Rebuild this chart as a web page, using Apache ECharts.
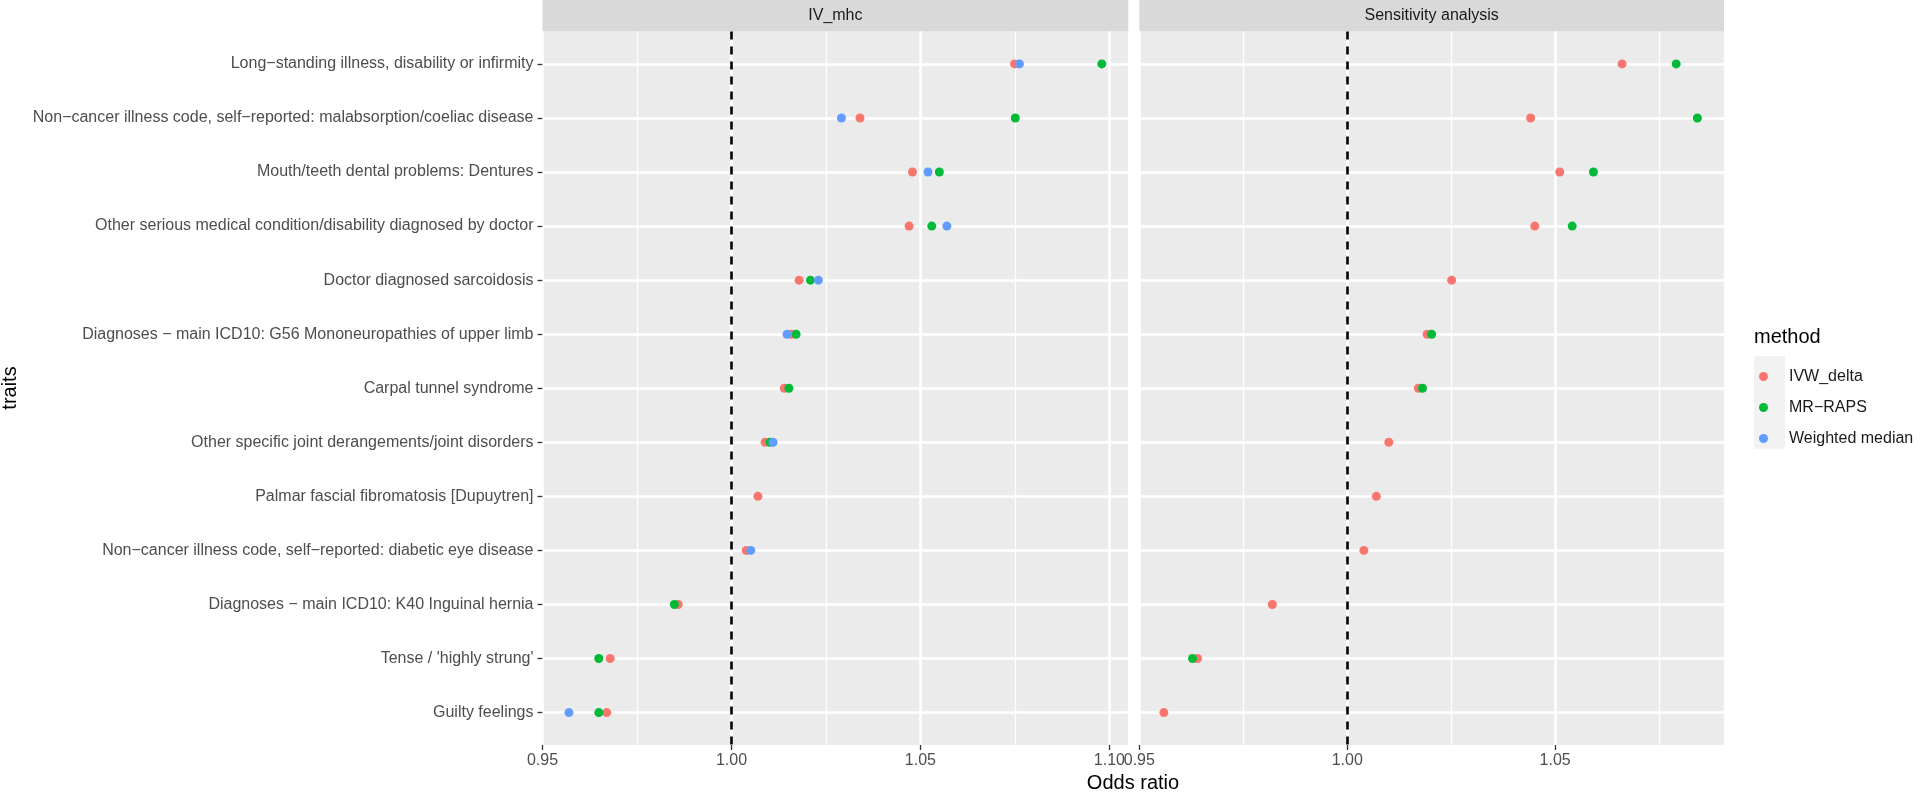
<!DOCTYPE html>
<html><head><meta charset="utf-8">
<script src="https://cdn.jsdelivr.net/npm/echarts@6/dist/echarts.min.js"></script>
<style>html,body{margin:0;padding:0;background:#fff}#c{width:1920px;height:796px}</style>
</head><body><div id="c"></div>
<script>
// ---------- data ----------
const traits = [
  'Long−standing illness, disability or infirmity',
  'Non−cancer illness code, self−reported: malabsorption/coeliac disease',
  'Mouth/teeth dental problems: Dentures',
  'Other serious medical condition/disability diagnosed by doctor',
  'Doctor diagnosed sarcoidosis',
  'Diagnoses − main ICD10: G56 Mononeuropathies of upper limb',
  'Carpal tunnel syndrome',
  'Other specific joint derangements/joint disorders',
  'Palmar fascial fibromatosis [Dupuytren]',
  'Non−cancer illness code, self−reported: diabetic eye disease',
  'Diagnoses − main ICD10: K40 Inguinal hernia',
  "Tense / 'highly strung'",
  'Guilty feelings'
];
const panels = ['IV_mhc', 'Sensitivity analysis'];
const methods = ['IVW_delta', 'MR−RAPS', 'Weighted median'];
const methodColors = ['#F8766D', '#00BA38', '#619CFF'];

// IV_mhc panel
const ivmhcIVW  = [1.0749, 1.0340, 1.0479, 1.0470, 1.0179, 1.0158, 1.0140, 1.0089, 1.0070, 1.0039, 0.9859, 0.9679, 0.9670];
const ivmhcRAPS = [1.0980, 1.0751, 1.0550, 1.0530, 1.0209, 1.0171, 1.0152, 1.0102, null,   null,   0.9849, 0.9649, 0.9649];
const ivmhcWM   = [1.0762, 1.0291, 1.0520, 1.0570, 1.0230, 1.0147, null,   1.0110, null,   1.0051, null,   null,   0.9570];
// Sensitivity analysis panel
const sensIVW   = [1.0661, 1.0441, 1.0511, 1.0451, 1.0251, 1.0192, 1.0171, 1.0100, 1.0070, 1.0040, 0.9820, 0.9640, 0.9559];
const sensRAPS  = [1.0791, 1.0842, 1.0592, 1.0541, null,   1.0203, 1.0181, null,   null,   null,   null,   0.9628, null];
const sensWM    = [null, null, null, null, null, null, null, null, null, null, null, null, null];

// axis ticks
const leftXTicks  = [0.95, 1.00, 1.05, 1.10];
const rightXTicks = [0.95, 1.00, 1.05];
const leftXRange  = [0.95, 1.105];
const rightXRange = [0.95, 1.0906];
const refLine = 1.00;

// ---------- chart ----------
const FONT = "'Liberation Sans', Arial, Helvetica, sans-serif";
const chart = echarts.init(document.getElementById('c'), null, {renderer: 'canvas'});

const gridTop = 31.5, gridBottom = 51;
const grids = [
  {left: 542.5, width: 585.8, top: gridTop, bottom: gridBottom},
  {left: 1139.3, width: 584.7, top: gridTop, bottom: gridBottom}
];
const idx = traits.map((t, i) => i);

function majorX(g, range, ticks) {
  return {
    type: 'value', gridIndex: g, min: range[0], max: range[1], interval: 0.05, position: 'bottom',
    axisLine: {show: false, onZero: false},
    axisTick: {show: true, length: 5, customValues: ticks, lineStyle: {color: '#333333', width: 1.3}},
    axisLabel: {show: true, customValues: ticks, margin: 8, fontSize: 16, fontFamily: FONT, color: '#4D4D4D',
      formatter: v => Number(v).toFixed(2)},
    splitLine: {show: true, lineStyle: {color: '#FFFFFF', width: 2.6}}
  };
}
function minorX(g, range) {
  return {
    type: 'value', gridIndex: g, min: range[0], max: range[1], interval: 0.025, position: 'bottom',
    axisLine: {show: false, onZero: false}, axisTick: {show: false}, axisLabel: {show: false},
    splitLine: {show: true, lineStyle: {color: '#FFFFFF', width: 1.3}}
  };
}
function yAx(g, labels) {
  return {
    type: 'value', gridIndex: g, min: -0.6, max: traits.length - 1 + 0.6, inverse: true, position: 'left',
    axisLine: {show: false, onZero: false},
    axisTick: {show: labels, length: 5, customValues: idx, lineStyle: {color: '#333333', width: 1.3}},
    axisLabel: {show: labels, customValues: idx, margin: 9, fontSize: 16, fontFamily: FONT, color: '#4D4D4D',
      formatter: v => traits[Math.round(v)]},
    splitLine: {show: false}
  };
}

function pts(vals) {
  const out = [];
  vals.forEach((v, i) => { if (v !== null && v !== undefined) out.push([v, i]); });
  return out;
}
function pointSeries(name, color, vals, g) {
  return {
    type: 'scatter', name: name, xAxisIndex: g * 2, yAxisIndex: g, data: pts(vals),
    symbol: 'circle', symbolSize: 9, z: 5,
    itemStyle: {color: color, opacity: 1},
    emphasis: {disabled: true}, silent: true, animation: false
  };
}
function helperSeries(g) {
  return {
    type: 'scatter', name: 'helper' + g, xAxisIndex: g * 2, yAxisIndex: g, data: [], z: 2,
    silent: true, animation: false,
    markLine: {
      silent: true, symbol: ['none', 'none'], animation: false, label: {show: false},
      data: idx.map(i => ({yAxis: i, lineStyle: {color: '#FFFFFF', width: 2.6, type: 'solid'}}))
        .concat([{xAxis: refLine, lineStyle: {color: '#000000', width: 2.6, type: [8, 7]}}])
    }
  };
}

const option = {
  backgroundColor: '#FFFFFF',
  animation: false,
  textStyle: {fontFamily: FONT},
  grid: grids.map(g => Object.assign({show: true, backgroundColor: '#EBEBEB', borderWidth: 0, containLabel: false}, g)),
  xAxis: [majorX(0, leftXRange, leftXTicks), minorX(0, leftXRange), majorX(1, rightXRange, rightXTicks), minorX(1, rightXRange)],
  yAxis: [yAx(0, true), yAx(1, false)],
  legend: {
    data: methods, orient: 'vertical', left: 1754, top: 363.5,
    itemWidth: 31, itemHeight: 9, itemGap: 15, icon: 'circle', selectedMode: false,
    textStyle: {fontSize: 16, fontFamily: FONT, color: '#1A1A1A', lineHeight: 16, padding: [0, 0, 0, 5]}
  },
  series: [
    helperSeries(0), helperSeries(1),
    pointSeries(methods[0], methodColors[0], ivmhcIVW, 0),
    pointSeries(methods[1], methodColors[1], ivmhcRAPS, 0),
    pointSeries(methods[2], methodColors[2], ivmhcWM, 0),
    pointSeries(methods[0], methodColors[0], sensIVW, 1),
    pointSeries(methods[1], methodColors[1], sensRAPS, 1),
    pointSeries(methods[2], methodColors[2], sensWM, 1)
  ],
  graphic: [
    {type: 'rect', shape: {x: 542.5, y: 0, width: 585.8, height: 31.5}, style: {fill: '#D9D9D9'}, silent: true},
    {type: 'rect', shape: {x: 1139.3, y: 0, width: 584.7, height: 31.5}, style: {fill: '#D9D9D9'}, silent: true},
    {type: 'text', x: 542.5 + 585.8 / 2, y: 16, style: {text: panels[0], fill: '#1A1A1A', font: '16px ' + FONT, textAlign: 'center', textVerticalAlign: 'middle'}, silent: true},
    {type: 'text', x: 1139.3 + 584.7 / 2, y: 16, style: {text: panels[1], fill: '#1A1A1A', font: '16px ' + FONT, textAlign: 'center', textVerticalAlign: 'middle'}, silent: true},
    {type: 'text', x: 1133, y: 783, style: {text: 'Odds ratio', fill: '#000000', font: '20px ' + FONT, textAlign: 'center', textVerticalAlign: 'middle'}, silent: true},
    {type: 'text', x: 10, y: 388, rotation: Math.PI / 2, style: {text: 'traits', fill: '#000000', font: '20px ' + FONT, textAlign: 'center', textVerticalAlign: 'middle'}, silent: true},
    {type: 'text', x: 1754, y: 337, style: {text: 'method', fill: '#000000', font: '20px ' + FONT, textAlign: 'left', textVerticalAlign: 'middle'}, silent: true},
    {type: 'rect', shape: {x: 1754, y: 356, width: 31, height: 93}, style: {fill: '#F2F2F2'}, silent: true, z: -1}
  ]
};
chart.setOption(option);
</script>
</body></html>
